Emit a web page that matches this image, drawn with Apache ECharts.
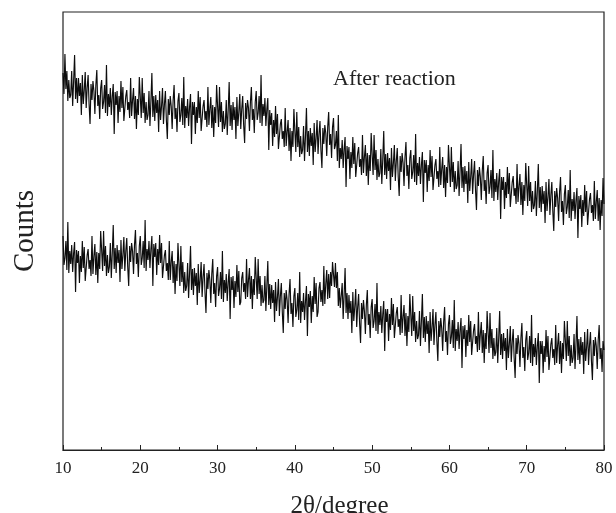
<!DOCTYPE html>
<html>
<head>
<meta charset="utf-8">
<script src="https://cdn.jsdelivr.net/npm/echarts@6/dist/echarts.min.js"></script>
<style>html,body{margin:0;padding:0;background:#fff}#c{width:616px;height:513px}</style>
</head>
<body>
<div id="c"></div>
<script>
// Sampling grid of 2θ (degrees): 10.000 to 80.000, step 0.125
const thetaStart = 10;
const thetaStep = 0.125;
const xTicks = [10, 20, 30, 40, 50, 60, 70, 80];

// After reaction (upper pattern), counts (arbitrary units), 8 points per degree
const afterCounts = [
377,356,396,361,379,349,370,352, 355,379,344,369,395,351,372,347,
372,354,367,335,375,346,360,378, 342,362,375,346,326,366,350,369,
359,336,365,380,344,355,331,362, 370,341,348,365,337,385,334,356,
343,362,335,354,366,316,358,345, 359,327,354,338,369,342,363,329,
330,354,360,340,348,332,372,334, 350,362,331,354,321,351,335,373,
353,332,372,337,357,327,348,330, 335,359,324,349,377,333,354,329,
355,337,350,318,359,330,344,362, 326,346,359,330,311,351,335,354,
344,321,350,365,331,342,318,349, 357,328,335,352,325,373,322,344,
332,351,324,343,356,306,348,335, 348,316,343,327,359,332,353,319,
320,344,350,330,339,323,363,325, 341,353,322,345,313,343,327,365,
344,323,363,328,348,318,339,321, 326,350,315,340,368,324,345,320,
348,330,343,311,353,324,338,356, 321,341,354,325,307,347,331,350,
342,319,348,363,330,341,317,348, 359,330,337,354,327,375,324,346,
334,352,324,341,352,300,340,325, 337,304,330,313,344,316,336,301,
302,326,331,311,319,303,342,304, 318,330,299,322,289,319,303,341,
319,298,338,303,323,293,314,296, 300,324,289,314,342,298,319,294,
322,304,317,285,327,298,312,330, 296,316,329,300,282,322,306,325,
317,294,323,338,305,316,292,323, 332,301,305,319,289,335,282,302,
291,310,282,301,313,263,304,291, 303,271,298,282,313,286,307,273,
273,297,303,283,291,275,315,277, 293,305,274,297,265,295,279,317,
296,275,315,280,300,270,291,273, 277,301,266,291,319,275,296,271,
297,279,292,260,302,273,287,305, 269,289,302,273,254,294,278,297,
287,264,293,308,274,285,261,292, 300,271,278,295,268,316,265,287,
274,293,266,285,298,248,290,277, 290,258,285,269,300,273,294,260,
261,285,291,271,279,263,303,265, 281,293,262,285,253,283,267,305,
284,263,303,268,288,258,279,261, 265,289,254,279,306,262,283,258,
284,266,279,247,288,259,273,291, 256,276,289,260,240,280,264,283,
273,250,279,294,259,270,246,277, 285,256,263,280,252,300,249,271,
258,277,250,269,281,231,273,260, 273,241,268,252,283,256,277,243,
244,268,274,254,262,246,286,248, 264,276,245,268,235,265,249,287,
265,244,284,249,268,238,259,241, 245,269,234,259,286,242,263,238,
264,246,259,227,268,239,253,271, 235,255,268,239,219,259,243,262,
252,229,258,273,238,249,225,256, 265,236,243,260,232,280,229,251,
239,258,231,250,262,212,254,241, 255,223,250,234,265,238,259,225,
227,251,257,237,245,229,269,231, 248,260,229,252,220,250,234,272,
246
];

// Before reaction (lower pattern), counts (arbitrary units), 8 points per degree
const beforeCounts = [
214,185,192,209,180,228,177,199, 186,205,178,197,208,158,200,187,
199,167,194,178,209,182,203,169, 171,195,201,181,190,174,214,176,
194,206,175,198,167,197,181,219, 200,179,219,184,204,174,195,177,
183,207,172,197,225,181,202,177, 205,187,200,168,210,181,195,213,
179,199,212,183,164,204,188,207, 199,176,205,220,186,197,173,204,
214,185,192,209,182,230,179,201, 190,209,182,201,214,164,206,193,
207,175,201,185,215,187,207,172, 172,195,200,179,187,170,209,170,
188,199,167,189,156,186,169,207, 186,164,204,168,188,157,178,159,
164,187,152,177,204,160,181,155, 182,164,177,145,186,157,170,188,
153,173,186,157,137,177,161,180, 170,147,176,191,156,167,143,174,
183,154,161,178,151,199,148,170, 157,176,149,168,181,131,173,160,
174,142,169,153,185,158,179,145, 148,172,178,158,167,151,191,153,
170,182,151,174,141,171,155,193, 172,151,191,156,174,144,165,147,
150,174,139,164,189,145,166,141, 165,147,160,128,168,139,153,171,
134,154,167,138,117,157,141,160, 150,127,156,171,136,147,123,154,
162,133,140,157,130,178,127,149, 138,157,130,149,164,114,156,143,
159,127,154,138,173,146,167,133, 138,162,168,148,160,144,184,146,
166,180,151,176,152,178,164,188, 186,163,187,162,178,144,162,142,
144,167,131,155,182,137,157,131, 155,137,149,117,158,129,143,161,
123,143,156,127,107,147,131,150, 139,116,145,160,125,136,112,143,
151,122,129,146,119,167,116,138, 125,144,117,136,149,99,141,128,
141,109,136,120,152,125,146,112, 113,137,143,123,131,115,155,117,
133,145,114,137,104,134,118,156, 135,114,154,119,138,108,129,111,
115,139,104,129,156,112,133,108, 134,116,129,97,138,109,123,141,
105,125,138,109,89,129,113,132, 122,99,128,143,108,119,95,126,
135,106,113,130,102,150,99,121, 109,128,101,120,132,82,124,111,
125,93,120,104,135,108,129,95, 96,120,126,106,114,98,138,100,
116,128,97,120,87,117,101,139, 118,97,137,102,121,91,112,94,
98,122,87,112,139,95,116,91, 117,99,112,80,121,92,106,124,
88,108,121,92,72,112,96,115, 106,83,112,127,92,103,79,110,
119,90,97,114,87,135,84,106, 93,112,85,104,117,67,109,96,
109,77,104,88,120,93,114,80, 82,106,112,92,101,85,125,87,
105,117,86,109,77,107,91,129, 110,89,129,94,114,84,105,87,
92,116,81,106,134,90,111,86, 113,95,108,76,118,89,103,121,
85,105,118,89,70,110,94,113, 104,81,110,125,91,102,78,109,
100
];

const labelText = 'After reaction';

function pairs(arr) {
  return arr.map((v, i) => [thetaStart + i * thetaStep, v]);
}

const chart = echarts.init(document.getElementById('c'), null, {renderer: 'canvas'});
const serif = 'Liberation Serif, Times New Roman, serif';
chart.setOption({
  animation: false,
  backgroundColor: '#fff',
  grid: {left: 63, right: 12, top: 12, bottom: 63, outerBoundsMode: 'none', containLabel: false,
    show: true, borderColor: '#222', borderWidth: 1.2, backgroundColor: 'transparent'},
  xAxis: {
    type: 'value', min: 10, max: 80, interval: 10,
    name: '2θ/degree', nameLocation: 'middle', nameGap: 44,
    nameTextStyle: {fontFamily: serif, fontSize: 25, color: '#222', padding: [0, 0, 0, 12]},
    axisLine: {show: true, lineStyle: {color: '#222', width: 1.2}},
    axisTick: {show: true, inside: true, length: 5, lineStyle: {color: '#222'}},
    minorTick: {show: true, splitNumber: 2, length: 3, lineStyle: {color: '#222'}},
    axisLabel: {fontFamily: serif, fontSize: 17, color: '#222', margin: 10,
      formatter: v => xTicks.indexOf(v) >= 0 ? String(v) : ''},
    splitLine: {show: false}
  },
  yAxis: {
    type: 'value', min: 0, max: 438,
    name: 'Counts', nameLocation: 'middle', nameGap: 23, nameRotate: 90,
    nameTextStyle: {fontFamily: serif, fontSize: 29, color: '#222'},
    axisLine: {show: false}, axisTick: {show: false}, axisLabel: {show: false},
    splitLine: {show: false}
  },
  graphic: [{type: 'text', left: 333, top: 68,
    style: {text: labelText, fontFamily: serif, fontSize: 22, fill: '#222'}}],
  series: [
    {type: 'line', data: pairs(afterCounts), showSymbol: false, symbol: 'none', sampling: null,
     lineStyle: {color: '#0d0d0d', width: 1.15}},
    {type: 'line', data: pairs(beforeCounts), showSymbol: false, symbol: 'none', sampling: null,
     lineStyle: {color: '#0d0d0d', width: 1.15}}
  ]
});
</script>
</body>
</html>
